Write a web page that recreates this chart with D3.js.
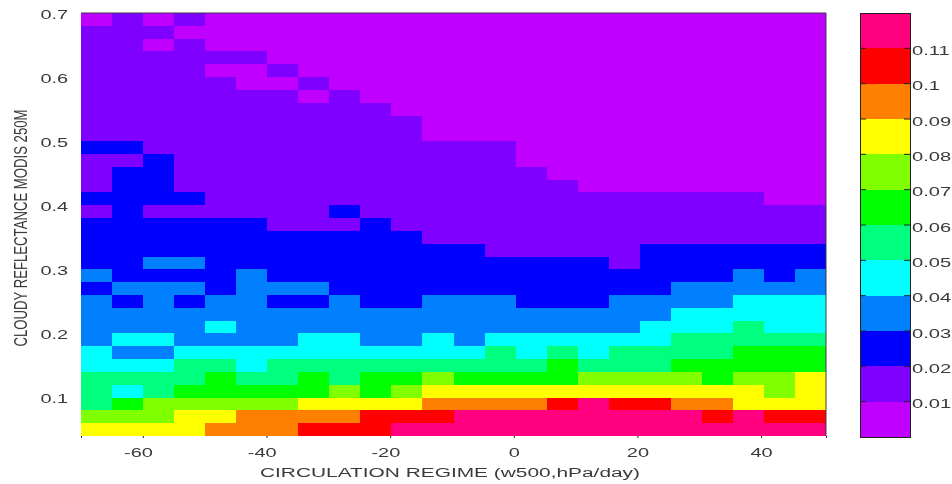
<!DOCTYPE html>
<html>
<head>
<meta charset="utf-8">
<script src="https://cdn.jsdelivr.net/npm/d3@7"></script>
<style>
html,body{margin:0;padding:0;background:#fff;overflow:hidden}
svg{display:block}
text{font-family:"Liberation Sans",Arial,sans-serif;fill:#3a3a3a;filter:blur(0.3px)}
rect{shape-rendering:crispEdges}
</style>
</head>
<body>
<svg id="chart" width="952" height="484"></svg>
<script>
const regimeBins = d3.range(24).map(i => -70 + 5 * i);
const reflectanceBins = [0.7,0.68,0.66,0.64,0.62,0.6,0.58,0.56,0.54,0.52,0.5,0.48,0.46,0.44,0.42,0.4,0.38,0.36,0.34,0.32,0.3,0.28,0.26,0.24,0.22,0.2,0.18,0.16,0.14,0.12,0.1,0.08,0.06];
// Colour-bin for each cell, in hundredths (top row first)
const cellBins = [
[0,1,0,1,0,0,0,0,0,0,0,0,0,0,0,0,0,0,0,0,0,0,0,0],
[1,1,1,0,0,0,0,0,0,0,0,0,0,0,0,0,0,0,0,0,0,0,0,0],
[1,1,0,1,0,0,0,0,0,0,0,0,0,0,0,0,0,0,0,0,0,0,0,0],
[1,1,1,1,1,1,0,0,0,0,0,0,0,0,0,0,0,0,0,0,0,0,0,0],
[1,1,1,1,0,0,1,0,0,0,0,0,0,0,0,0,0,0,0,0,0,0,0,0],
[1,1,1,1,1,0,0,1,0,0,0,0,0,0,0,0,0,0,0,0,0,0,0,0],
[1,1,1,1,1,1,1,0,1,0,0,0,0,0,0,0,0,0,0,0,0,0,0,0],
[1,1,1,1,1,1,1,1,1,1,0,0,0,0,0,0,0,0,0,0,0,0,0,0],
[1,1,1,1,1,1,1,1,1,1,1,0,0,0,0,0,0,0,0,0,0,0,0,0],
[1,1,1,1,1,1,1,1,1,1,1,0,0,0,0,0,0,0,0,0,0,0,0,0],
[2,2,1,1,1,1,1,1,1,1,1,1,1,1,0,0,0,0,0,0,0,0,0,0],
[1,1,2,1,1,1,1,1,1,1,1,1,1,1,0,0,0,0,0,0,0,0,0,0],
[1,2,2,1,1,1,1,1,1,1,1,1,1,1,1,0,0,0,0,0,0,0,0,0],
[1,2,2,1,1,1,1,1,1,1,1,1,1,1,1,1,0,0,0,0,0,0,0,0],
[2,2,2,2,1,1,1,1,1,1,1,1,1,1,1,1,1,1,1,1,1,1,0,0],
[1,2,1,1,1,1,1,1,2,1,1,1,1,1,1,1,1,1,1,1,1,1,1,1],
[2,2,2,2,2,2,1,1,1,2,1,1,1,1,1,1,1,1,1,1,1,1,1,1],
[2,2,2,2,2,2,2,2,2,2,2,1,1,1,1,1,1,1,1,1,1,1,1,1],
[2,2,2,2,2,2,2,2,2,2,2,2,2,1,1,1,1,1,2,2,2,2,2,2],
[2,2,3,3,2,2,2,2,2,2,2,2,2,2,2,2,2,1,2,2,2,2,2,2],
[3,2,2,2,2,3,2,2,2,2,2,2,2,2,2,2,2,2,2,2,2,3,2,3],
[2,3,3,3,2,3,3,3,2,2,2,2,2,2,2,2,2,2,2,3,3,3,3,3],
[3,2,3,2,3,3,2,2,3,2,2,3,3,3,2,2,2,3,3,3,3,4,4,4],
[3,3,3,3,3,3,3,3,3,3,3,3,3,3,3,3,3,3,3,4,4,4,4,4],
[3,3,3,3,4,3,3,3,3,3,3,3,3,3,3,3,3,3,4,4,4,5,4,4],
[3,4,4,3,3,3,3,4,4,3,3,4,3,4,4,4,4,4,4,5,5,5,5,5],
[4,3,3,4,4,4,4,4,4,4,4,4,4,5,4,5,4,5,5,5,5,6,6,6],
[4,4,4,5,5,4,5,5,5,5,5,5,5,5,5,6,5,5,5,6,6,6,6,6],
[5,5,5,5,6,5,5,6,5,6,6,7,6,6,6,6,7,7,7,7,6,7,7,8],
[5,4,5,6,6,6,6,6,7,6,7,8,8,8,8,8,8,8,8,8,8,8,7,8],
[5,6,7,7,7,7,7,8,8,8,8,9,9,9,9,10,11,10,10,9,9,8,8,8],
[7,7,7,8,8,9,9,9,9,10,10,10,11,11,11,11,11,11,11,11,10,11,10,10],
[8,8,8,8,9,9,9,10,10,10,11,11,11,11,11,11,11,11,11,11,11,11,11,11]
];
const colorBreaks = [0.01,0.02,0.03,0.04,0.05,0.06,0.07,0.08,0.09,0.1,0.11];
const palette = ["#bf00ff","#7f00ff","#0000ff","#007fff","#00ffff","#00ff7f","#00ff00","#7fff00","#ffff00","#ff7f00","#ff0000","#ff007f"];
const xTicks = [-60,-40,-20,0,20,40];
const yTicks = [0.1,0.2,0.3,0.4,0.5,0.6,0.7];
const xTitle = "CIRCULATION REGIME (w500,hPa/day)";
const yTitle = "CLOUDY REFLECTANCE MODIS 250M";

const plot = {left:81,right:826,top:13,bottom:436};
const bar = {left:860,right:910,top:13,bottom:437};
const svg = d3.select("#chart");

const xCell = d3.scaleBand().domain(regimeBins).range([plot.left,plot.right]);
const yCell = d3.scaleBand().domain(reflectanceBins).range([plot.top,plot.bottom]);
const x = d3.scaleLinear().domain([-70,50.5]).range([plot.left,plot.right]);
const y = d3.scaleLinear().domain([0.04,0.7]).range([plot.bottom,plot.top]);
const color = d3.scaleThreshold().domain(colorBreaks).range(palette);

const cells = reflectanceBins.flatMap((r,ri) => regimeBins.map((c,ci) => ({r,c,v:cellBins[ri][ci]/100+0.001})));
svg.append("g").selectAll("rect").data(cells).join("rect")
  .attr("x",d=>xCell(d.c)).attr("y",d=>yCell(d.r))
  .attr("width",xCell.bandwidth()).attr("height",yCell.bandwidth())
  .attr("fill",d=>color(d.v));

// frame: only the top and right edges show over the cells
svg.append("path")
  .attr("d",d3.line()([[plot.left,plot.top],[plot.right,plot.top],[plot.right,plot.bottom]]))
  .attr("fill","none").attr("stroke","#3a3a4a").attr("stroke-width",1);

const stretch = "scale(1.6,1)";
const xAxis = svg.append("g").attr("transform",`translate(0,${plot.bottom})`)
  .call(d3.axisBottom(x).tickValues([-70,...xTicks,50.5]).tickSize(2).tickFormat(d=>xTicks.includes(d)?String(d):""));
xAxis.select(".domain").remove();
xAxis.selectAll("line").attr("stroke","#222");
xAxis.selectAll("text").attr("transform",stretch).attr("y",21).attr("dy",0)
  .attr("x",d=>d<0?-3:0).style("font-size","12.5px").attr("fill",null);

const yAxis = svg.append("g").attr("transform",`translate(${plot.left},0)`)
  .call(d3.axisLeft(y).tickValues(yTicks).tickSize(0).tickFormat(d=>String(d)));
yAxis.select(".domain").remove();
yAxis.selectAll("text").attr("transform",stretch).attr("x",-8).attr("dy","0.42em")
  .style("font-size","12.5px").attr("fill",null);

svg.append("text").text(xTitle).attr("x",450).attr("y",477).attr("text-anchor","middle")
  .attr("textLength",380).attr("lengthAdjust","spacingAndGlyphs").style("font-size","12.5px");
svg.append("text").text(yTitle)
  .attr("transform","translate(27,228) rotate(-90)").attr("text-anchor","middle")
  .attr("textLength",237).attr("lengthAdjust","spacingAndGlyphs").style("font-size","18px");

// colour bar
const yBar = d3.scaleLinear().domain([0,0.12]).range([bar.bottom,bar.top]);
const barEdges = [0,...colorBreaks];
svg.append("g").selectAll("rect").data(barEdges).join("rect")
  .attr("x",bar.left).attr("width",bar.right-bar.left)
  .attr("y",(d,i)=>yBar(i<colorBreaks.length?colorBreaks[i]:0.12))
  .attr("height",(d,i)=>yBar(d)-yBar(i<colorBreaks.length?colorBreaks[i]:0.12))
  .attr("fill",d=>color(d+0.001));
svg.append("rect").attr("x",bar.left).attr("y",bar.top)
  .attr("width",bar.right-bar.left).attr("height",bar.bottom-bar.top)
  .attr("fill","none").attr("stroke","#222");
const barTicks = svg.append("g");
barTicks.selectAll("line.l").data(colorBreaks).join("line").attr("class","l")
  .attr("x1",bar.left).attr("x2",bar.left+6).attr("y1",yBar).attr("y2",yBar).attr("stroke","#222");
barTicks.selectAll("line.r").data(colorBreaks).join("line").attr("class","r")
  .attr("x1",bar.right-6).attr("x2",bar.right).attr("y1",yBar).attr("y2",yBar).attr("stroke","#222");
const barAxis = svg.append("g").attr("transform",`translate(${bar.right},0)`)
  .call(d3.axisRight(yBar).tickValues(colorBreaks).tickSize(0).tickFormat(d=>String(d)));
barAxis.select(".domain").remove();
barAxis.selectAll("text").attr("transform","scale(1.68,1)").attr("x",1.2).attr("dy","0.5em")
  .style("font-size","12px").attr("fill",null);
</script>
</body>
</html>
